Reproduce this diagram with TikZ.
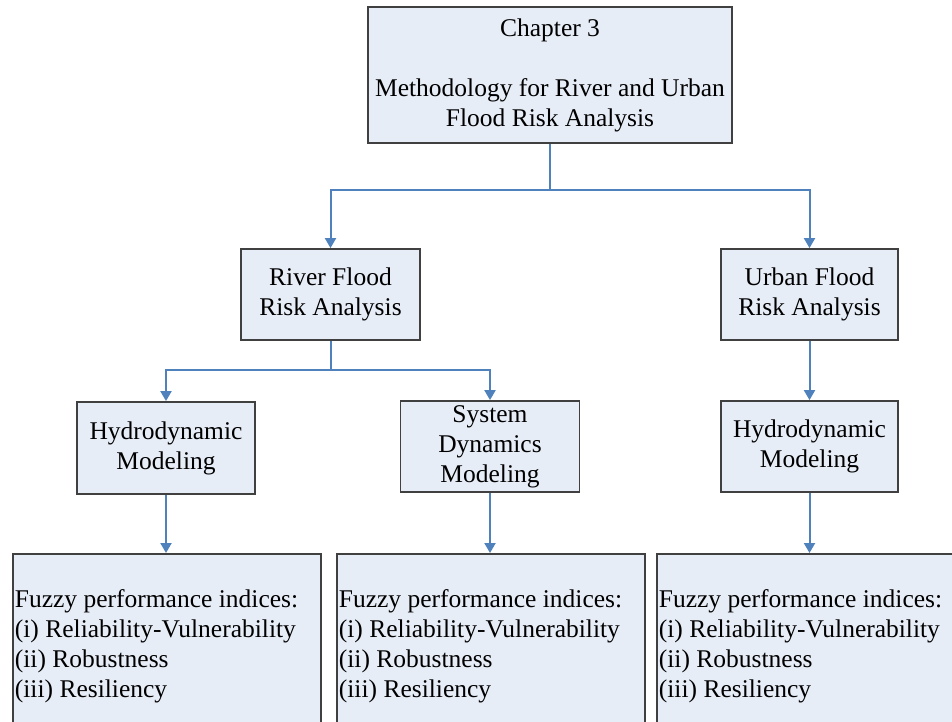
\documentclass[tikz,border=0pt]{standalone}
\usepackage{fontspec}
\setmainfont{Liberation Serif}
\usetikzlibrary{arrows.meta}
\definecolor{boxfill}{RGB}{231,237,247}
\definecolor{boxline}{RGB}{64,64,64}
\definecolor{connblue}{RGB}{79,129,189}
\begin{document}
\begin{tikzpicture}[x=1pt,y=-1pt,
  box/.style={draw=boxline, fill=boxfill, line width=1.8pt, align=center,
    font=\fontsize{25.5}{30}\selectfont, inner sep=2pt},
  listbox/.style={draw=boxline, fill=boxfill, line width=1.8pt, align=flush left,
    font=\fontsize{25.5}{30}\selectfont, inner xsep=2pt, inner ysep=36pt,
    text width=304pt, anchor=north west},
  arr/.style={draw=connblue, line width=2pt, -{Triangle[width=11pt,length=10pt]}},
]
\useasboundingbox (0,0) rectangle (952,721);
\clip (0,0) rectangle (952,721);

\node[box, minimum width=364pt, minimum height=136pt] (top) at (550,75)
  {Chapter 3\\[30pt]Methodology for River and Urban\\Flood Risk Analysis};

\node[box, minimum width=179pt, minimum height=91pt] (river) at (330.5,294.5)
  {River Flood\\Risk Analysis};
\node[box, minimum width=177pt, minimum height=91pt] (urban) at (809.5,294.5)
  {Urban Flood\\Risk Analysis};

\node[box, minimum width=178pt, minimum height=92pt] (hydroL) at (166,448)
  {Hydrodynamic\\Modeling};
\node[box, minimum width=179pt, minimum height=91pt] (sysdyn) at (490,446.5)
  {System\\Dynamics\\Modeling};
\node[box, minimum width=177pt, minimum height=91pt] (hydroR) at (809.5,446.5)
  {Hydrodynamic\\Modeling};

\node[listbox] (fuzzyL) at (12,553)
  {Fuzzy performance indices:\\(i) Reliability-Vulnerability\\(ii) Robustness\\(iii) Resiliency};
\node[listbox] (fuzzyM) at (336,553)
  {Fuzzy performance indices:\\(i) Reliability-Vulnerability\\(ii) Robustness\\(iii) Resiliency};
\node[listbox, text width=330pt] (fuzzyR) at (656,553)
  {Fuzzy performance indices:\\(i) Reliability-Vulnerability\\(ii) Robustness\\(iii) Resiliency};

\coordinate (j1) at (550,190);
\coordinate (j2) at (330.5,370);

\draw[arr] (top.south) -- (j1) -| (river.north);
\draw[arr] (j1) -| (urban.north);
\draw[arr] (river.south) -- (j2) -| (hydroL.north);
\draw[arr] (j2) -| (sysdyn.north);
\draw[arr] (urban.south) -- (hydroR.north);

\draw[arr] (hydroL.south) -- (hydroL.south |- fuzzyL.north);
\draw[arr] (sysdyn.south) -- (sysdyn.south |- fuzzyM.north);
\draw[arr] (hydroR.south) -- (hydroR.south |- fuzzyR.north);
\end{tikzpicture}
\end{document}
